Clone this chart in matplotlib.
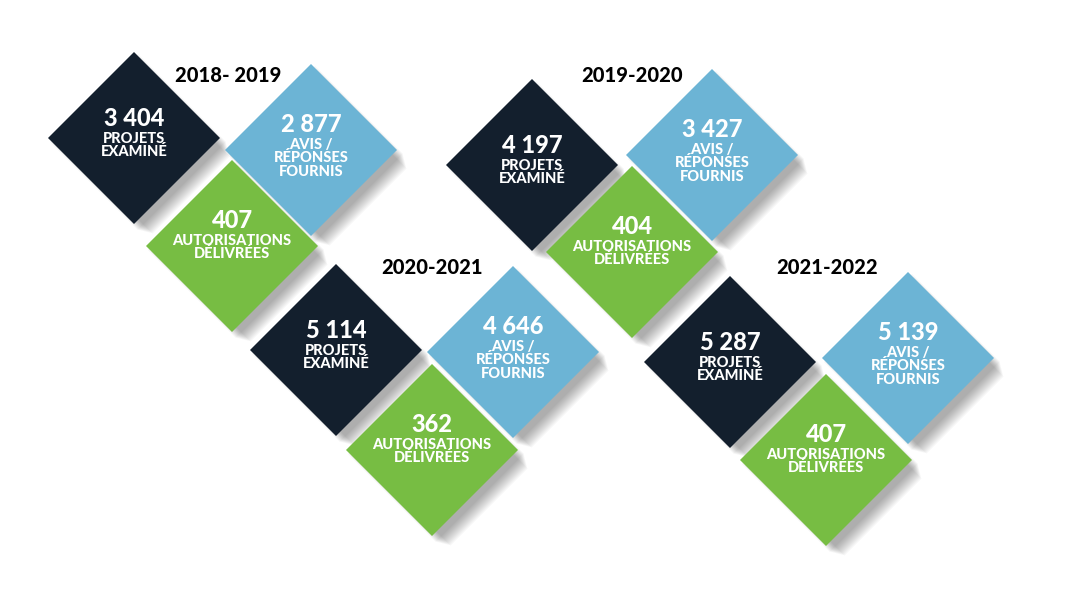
import matplotlib
matplotlib.use("Agg")
import matplotlib.pyplot as plt
from matplotlib.patches import Polygon

years = ["2018- 2019", "2019-2020", "2020-2021", "2021-2022"]
projets = ["3 404", "4 197", "5 114", "5 287"]
avis = ["2 877", "3 427", "4 646", "5 139"]
autorisations = ["407", "404", "362", "407"]
lbl_projets = "PROJETS\nEXAMINÉ"
lbl_avis = "AVIS /\nRÉPONSES\nFOURNIS"
lbl_aut = "AUTORISATIONS\nDÉLIVRÉES"

# layout: (dark center, blue center, green center, title pos)
layout = [
    ((134, 138), (311, 150), (232, 246), (228, 75)),
    ((532, 165), (712, 155), (632, 252), (632, 75)),
    ((336, 350), (513, 352), (432, 450), (432, 268)),
    ((730, 362), (908, 358), (826, 460), (827, 268)),
]
DARK, BLUE, GREEN = "#131f2d", "#6cb4d5", "#77bd43"
H = 86

fig = plt.figure(figsize=(10.71, 5.91), dpi=100)
ax = fig.add_axes([0, 0, 1, 1])
ax.set_xlim(0, 1071); ax.set_ylim(591, 0); ax.axis("off")
FONT = "Lato"

def diamond(c, color, z):
    x, y = c
    for i in range(10):
        d = 4 + i * 1.6
        s = H + 2 - i * 1.2
        ax.add_patch(Polygon([(x + d, y - s + d), (x + s + d, y + d), (x + d, y + s + d), (x - s + d, y + d)],
                             closed=True, color="black", alpha=0.035, lw=0, zorder=z - 0.5))
    ax.add_patch(Polygon([(x, y - H), (x + H, y), (x, y + H), (x - H, y)], closed=True, color=color, lw=0, zorder=z))

def texts(c, num, lbl, z, dy=0):
    x, y = c
    ax.text(x, y - 8 + dy, num, ha="center", va="bottom", color="white", fontsize=17,
            fontweight="heavy", family=FONT, zorder=z + 0.1)
    ax.text(x, y - 6 + dy, lbl, ha="center", va="top", color="white", fontsize=10.5,
            fontweight="heavy", family=FONT, linespacing=0.95, zorder=z + 0.1)

for i in range(4):
    dc, bc, gc, tp = layout[i]
    diamond(dc, DARK, 2); texts(dc, projets[i], lbl_projets, 2)
    diamond(bc, BLUE, 2); texts(bc, avis[i], lbl_avis, 2, dy=-6)
    diamond(gc, GREEN, 4); texts(gc, autorisations[i], lbl_aut, 4, dy=-6)
    ax.text(tp[0], tp[1], years[i], ha="center", va="center", fontsize=14.5,
            fontweight="heavy", family=FONT, color="black", zorder=6)

fig.savefig("out.png", dpi=100)
